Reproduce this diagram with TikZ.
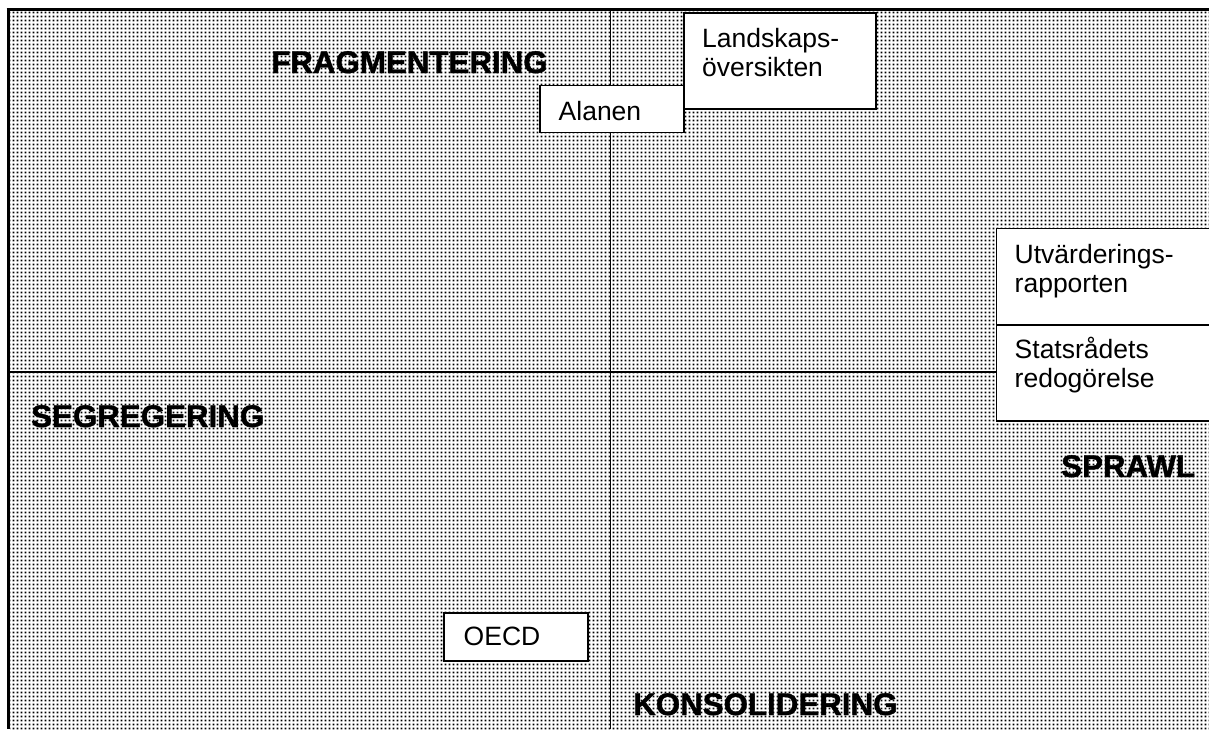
\documentclass[tikz,border=0pt]{standalone}
\usepackage{fontspec}
\setmainfont{Liberation Sans}
\newfontfamily\heavyfont[FakeBold=1.2]{Liberation Sans Bold}
\usetikzlibrary{patterns.meta}
\tikzdeclarepattern{
  name=pxdots,
  type=uncolored,
  bounding box={(0pt,0pt) and (4pt,4pt)},
  tile size={(4pt,4pt)},
  code={\pgfpathrectangle{\pgfqpoint{0.9pt}{0.9pt}}{\pgfqpoint{2.2pt}{2.2pt}}\pgfusepath{fill}}
}
\tikzset{
  box/.style={draw=black, line width=1.6pt, fill=white, inner sep=0pt, anchor=north west},
  boxtext/.style={anchor=base west, inner sep=0pt, font=\fontsize{26.5}{30}\selectfont},
  bigtext/.style={anchor=base west, inner sep=0pt, font=\fontsize{31.3}{36}\selectfont\heavyfont},
  divider/.style={line width=1.5pt, black},
  frame/.style={line width=3.5pt, black}
}
\begin{document}
\begin{tikzpicture}[x=1pt,y=-1pt]
\useasboundingbox (0,0) rectangle (1209,729);
\fill[white] (0,0) rectangle (1209,729);
% dotted background
\fill[pattern={pxdots}, pattern color=black] (10,11) rectangle (1209,729);
% frame
\coordinate (ftl) at (6.5,9.5);
\coordinate (ftr) at (1209,9.5);
\coordinate (fl1) at (8.3,8);
\coordinate (fl2) at (8.3,729);
\draw[frame] (ftl) -- (ftr);
\draw[frame] (fl1) -- (fl2);
% dividers
\coordinate (vtop) at (610.7,11);
\coordinate (vbot) at (610.7,729);
\coordinate (hleft) at (10,372);
\coordinate (hright) at (996,372);
\draw[divider] (vtop) -- (vbot);
\draw[divider] (hleft) -- (hright);
% boxes
\node[box, minimum width=192pt, minimum height=96pt] (land) at (683,12) {};
\node[box, minimum width=144pt, minimum height=47pt] (alanen) at (539,84.5) {};
\node[box, minimum width=216pt, minimum height=97pt] (utv) at (995.5,227.5) {};
\node[box, minimum width=216pt, minimum height=96pt] (stat) at (995.5,324) {};
\node[box, minimum width=144pt, minimum height=48pt] (oecd) at (443,612) {};
% box texts
\node[boxtext] (landa) at (702,47) {Landskaps-};
\node[boxtext] (landb) at (702,76) {översikten};
\node[boxtext] (alanent) at (558.5,120) {Alanen};
\node[boxtext] (utva) at (1014.5,263) {Utvärderings-};
\node[boxtext] (utvb) at (1014.5,292.5) {rapporten};
\node[boxtext] (stata) at (1014.5,358) {Statsrådets};
\node[boxtext] (statb) at (1014.5,387) {redogörelse};
\node[boxtext] (oecdt) at (463.5,645) {OECD};
% big labels
\node[bigtext] (frag) at (271,73) {FRAGMENTERING};
\node[bigtext] (segr) at (31,427) {SEGREGERING};
\node[bigtext] (spraw) at (1061,477) {SPRAWL};
\node[bigtext] (kons) at (633,715) {KONSOLIDERING};
\end{tikzpicture}
\end{document}
